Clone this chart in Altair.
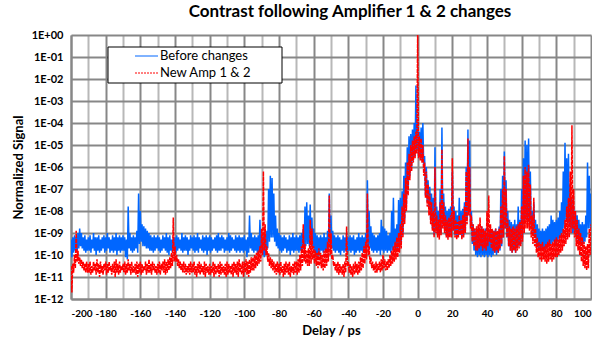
import altair as alt
import pandas as pd

# Delay axis: one envelope bin per picosecond, starting at -200 ps.
DELAY_START = -200

# Per-bin signal envelopes, stored as -10*log10(signal):
# "hi" is the bin maximum, "lo" the bin minimum.
BEFORE_HI = """
93 92 91 92 90 88 90 92 91 93
92 91 93 90 92 92 91 93 92 91
92 90 92 93 91 92 90 92 91 92
91 92 93 78 90 92 91 92 89 72
80 86 87 88 89 90 91 92 91 92
91 92 93 91 92 90 92 91 93 92
92 91 92 93 90 92 91 92 93 91
92 91 92 90 92 93 91 92 91 92
91 92 93 92 91 90 92 91 92 93
92 90 91 92 93 91 92 91 92 92
91 93 92 82 90 92 91 92 91 84
92 91 92 89 70 64 65 72 82 88
90 91 92 91 92 93 91 92 90 92
91 92 91 90 88 78 76 82 77 83
88 90 91 92 91 92 90 92 89 72
82 89 91 92 91 92 93 91 92 90
92 91 92 91 93 92 90 92 91 92
90 66 80 87 90 91 92 91 90 84
87 88 89 91 90 80 74 88 86 75
74 71 64 58 51 46 45 43 40 23
40 44 42 40 55 60 66 69 72 74
51 78 80 70 42 72 78 80 79 78
62 78 80 82 74 80 79 76 60 43
48 80 86 88 89 87 88 87 89 88
90 89 88 90 89 88 90 87 70 64
53 66 80 84 85 86 84 86 78 84
70 56 48 50 47 62 80 76 84 86
88 89 88 89 88 87 86 82 84 85
84 83 80 76 62 49 56 54 68 74
78 80 82 84 86 85 86 82 58 64
72
"""

BEFORE_LO = """
101 99 98 99 97 96 97 98 99 98
98 99 97 98 100 98 99 98 97 99
98 97 99 98 99 98 100 98 99 98
98 101 102 97 98 99 98 97 99 95
94 96 96 97 97 98 98 99 98 97
98 99 98 97 98 99 100 98 99 98
99 98 97 98 99 98 98 100 98 97
98 99 98 99 97 98 99 98 100 98
99 98 97 98 99 98 98 97 99 98
98 99 98 97 98 99 98 99 98 99
98 101 99 97 98 99 98 99 99 98
100 101 100 97 94 92 92 94 96 97
98 99 98 97 99 98 100 98 99 98
98 99 98 99 97 96 95 96 95 97
99 100 101 99 98 99 98 99 98 96
97 98 99 98 99 100 98 99 98 99
98 99 98 100 99 98 99 98 99 98
98 96 97 98 99 98 99 98 100 98
99 98 99 98 99 98 97 98 97 96
95 90 84 78 70 64 60 57 55 52
55 56 57 60 73 76 79 84 88 91
89 90 91 90 86 88 91 92 90 91
88 91 92 91 90 92 91 89 84 80
86 95 98 100 101 100 101 100 101 100
101 100 101 100 99 100 99 98 96 92
88 92 96 98 99 98 99 97 96 95
92 86 84 85 86 88 90 92 96 97
97 98 97 98 97 96 96 95 94 95
94 93 92 90 88 84 85 86 88 90
90 92 93 94 95 95 94 92 88 88
86
"""

NEW_HI = """
105 104 100 89 98 101 102 103 104 103
104 103 105 103 104 102 104 103 105 104
103 104 103 105 104 103 102 104 103 105
104 103 104 102 104 103 105 104 103 104
103 104 105 103 104 102 104 103 104 105
104 103 104 103 102 103 102 101 99 83
96 100 102 103 104 103 104 105 104 103
104 103 105 104 103 104 105 103 104 105
104 105 103 104 105 104 103 104 105 104
103 104 105 104 103 104 103 102 104 103
103 102 103 102 101 101 100 99 98 96
88 62 86 96 99 101 102 103 104 103
104 103 105 104 103 104 103 105 104 103
103 102 100 96 86 95 98 97 84 88
96 98 99 97 99 100 98 97 94 73
90 100 103 104 103 104 105 104 103 87
103 104 105 104 103 104 103 101 99 96
94 72 96 101 103 104 103 104 103 102
100 102 103 102 100 98 96 94 92 90
86 78 72 65 58 54 50 48 46 44
0 46 47 50 58 62 68 72 76 80
60 82 84 76 52 76 82 84 83 82
56 80 84 85 82 84 82 78 62 47
60 82 86 88 87 86 83 87 88 89
80 73 86 88 89 88 89 88 78 70
55 70 84 87 88 87 88 87 86 85
78 64 60 62 59 68 82 74 88 92
94 95 94 96 95 94 93 95 94 93
92 93 91 90 88 84 78 74 62 41
70 80 84 88 90 92 94 96 95 88
86
"""

NEW_LO = """
117 108 106 103 104 105 106 107 108 108
108 109 108 107 109 108 110 108 109 107
109 108 107 109 108 110 108 109 108 107
108 109 108 107 109 108 108 109 110 108
109 108 107 109 108 108 109 107 108 109
108 109 107 108 109 108 107 106 105 103
103 105 106 107 108 108 109 108 109 108
108 109 110 108 109 108 109 110 108 109
109 108 110 109 108 110 109 108 109 110
109 108 109 110 108 109 110 108 109 110
108 109 110 108 107 107 106 105 104 103
100 98 100 103 105 106 107 108 109 108
109 108 110 109 108 109 110 108 109 108
109 108 107 105 103 104 105 105 104 102
104 105 106 105 106 107 106 105 103 100
102 105 107 108 109 108 109 110 108 105
108 109 110 109 108 109 108 107 106 104
102 100 104 106 107 108 108 107 108 107
106 107 107 106 105 104 103 102 101 99
97 92 86 80 73 66 62 58 56 54
56 57 58 64 74 78 82 86 89 92
90 92 93 91 88 90 92 93 92 92
89 92 93 92 91 93 92 90 86 82
88 94 96 98 98 97 96 98 97 98
96 94 97 98 99 98 99 97 95 92
88 92 96 98 99 98 99 98 97 96
94 90 88 88 89 92 95 96 99 101
102 103 102 103 104 103 102 103 102 101
101 100 99 98 96 95 93 92 90 88
92 96 98 100 103 105 106 107 106 100
96
"""

SERIES_NAMES = ["Before changes", "New Amp 1 & 2"]
SERIES_COLORS = ["#0066ff", "#ff0000"]
Y_TICKS = [10.0 ** -k for k in range(12, -1, -1)]
X_TICKS = list(range(-200, 101, 10))


def parse(block):
    return [int(v) for v in block.split()]


def envelope_frame(hi_block, lo_block, name):
    """Min/max decimated trace: each bin contributes its maximum then its minimum."""
    hi, lo = parse(hi_block), parse(lo_block)
    rows = []
    for i, (h, l) in enumerate(zip(hi, lo)):
        x = DELAY_START + i
        rows.append({"delay": x, "signal": 10 ** (-h / 10), "series": name, "idx": 2 * i})
        rows.append({"delay": x + 0.5, "signal": 10 ** (-l / 10), "series": name, "idx": 2 * i + 1})
    return pd.DataFrame(rows)


before = envelope_frame(BEFORE_HI, BEFORE_LO, SERIES_NAMES[0])
new_amp = envelope_frame(NEW_HI, NEW_LO, SERIES_NAMES[1])

FONT = "Lato"

x_enc = alt.X(
    "delay:Q",
    scale=alt.Scale(domain=[-200, 100], nice=False, zero=False),
    axis=alt.Axis(
        values=X_TICKS,
        labelExpr="datum.value % 20 === 0 ? '' + datum.value : ''",
        labelOverlap=False,
        grid=True,
        gridColor={"condition": {"test": "datum.value % 20 === 0", "value": "#878787"}, "value": "#b8b8b8"},
        gridWidth=2,
        ticks=False,
        domainColor="#878787",
        domainWidth=2,
        labelFont=FONT,
        labelFontSize=10,
        labelFontWeight="bold",
        labelColor="black",
        labelPadding=9,
        title="Delay / ps",
        titleFont=FONT,
        titleFontSize=13,
        titleFontWeight="bold",
        titleColor="black",
        titlePadding=6,
    ),
)

y_enc = alt.Y(
    "signal:Q",
    scale=alt.Scale(type="log", domain=[1e-12, 1], nice=False),
    axis=alt.Axis(
        values=Y_TICKS,
        labelExpr="'1E' + (datum.value < 0.5 ? '-' : '+') + (datum.value > 3e-10 ? '0' : '') + abs(round(log(datum.value) / LN10))",
        labelOverlap=False,
        grid=True,
        gridColor="#878787",
        gridWidth=2,
        ticks=False,
        domainColor="#878787",
        domainWidth=2,
        labelFont=FONT,
        labelFontSize=11,
        labelFontWeight="bold",
        labelColor="black",
        labelPadding=8,
        title="Normalized Signal",
        titleFont=FONT,
        titleFontSize=13,
        titleFontWeight="bold",
        titleColor="black",
        titlePadding=6,
    ),
)

before_line = alt.Chart(before).mark_line(
    color=SERIES_COLORS[0], strokeWidth=1.5, clip=True
).encode(x=x_enc, y=y_enc, order="idx:Q")

new_line = alt.Chart(new_amp).mark_line(
    color=SERIES_COLORS[1], strokeWidth=1.5, strokeDash=[4, 1], clip=True
).encode(x=x_enc, y=y_enc, order="idx:Q")

# Legend box with its two entries
legend_src = pd.DataFrame({"label": SERIES_NAMES})
legend_box = alt.Chart(legend_src.head(1)).mark_rect(
    fill="white", stroke="black", strokeWidth=1
).encode(x=alt.value(37), x2=alt.value(211), y=alt.value(12), y2=alt.value(48))

legend_parts = [legend_box]
for k, (name, color) in enumerate(zip(SERIES_NAMES, SERIES_COLORS)):
    row = legend_src.iloc[[k]]
    ypos = 21 + 17 * k
    rule = alt.Chart(row).mark_rule(
        color=color, strokeWidth=1, strokeDash=[2, 1] if k == 1 else [1, 0]
    ).encode(x=alt.value(64), x2=alt.value(87), y=alt.value(ypos))
    text = alt.Chart(row).mark_text(
        align="left", baseline="middle", font=FONT, fontSize=13, color="black"
    ).encode(x=alt.value(89), y=alt.value(ypos), text="label:N")
    legend_parts += [rule, text]

chart = alt.layer(before_line, new_line, *legend_parts).properties(
    width=520,
    height=264,
    title=alt.TitleParams(
        "Contrast following Amplifier 1 & 2 changes",
        font=FONT,
        fontSize=17,
        fontWeight="bold",
        color="black",
        anchor="middle",
        dx=19,
        offset=8,
    ),
    autosize=alt.AutoSizeParams(type="none"),
    padding={"left": 71, "top": 35, "right": 1, "bottom": 39},
    background="white",
).configure_view(stroke=None)

chart.save("out.html", embed_options={"renderer": "svg", "actions": False})
